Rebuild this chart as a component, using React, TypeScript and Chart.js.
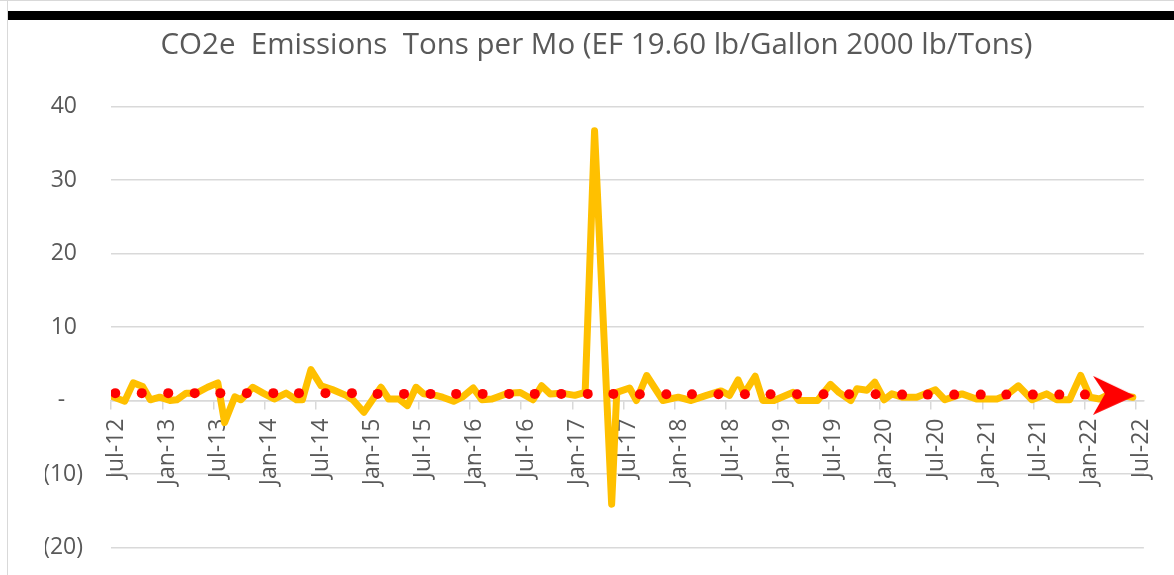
import React, { useEffect, useRef } from 'react';
import { Chart, registerables } from 'chart.js';

Chart.register(...registerables);

const TITLE = 'CO2e  Emissions  Tons per Mo (EF 19.60 lb/Gallon 2000 lb/Tons)';

const xTickLabels = [
  'Jul-12', 'Jan-13', 'Jul-13', 'Jan-14', 'Jul-14', 'Jan-15', 'Jul-15', 'Jan-16', 'Jul-16', 'Jan-17', 'Jul-17',
  'Jan-18', 'Jul-18', 'Jan-19', 'Jul-19', 'Jan-20', 'Jul-20', 'Jan-21', 'Jul-21', 'Jan-22', 'Jul-22',
];
const xTickMonths = [0, 6, 12, 18, 24, 30, 36, 42, 48, 54, 60, 66, 72, 78, 84, 90, 96, 102, 108, 114, 120];
const yTickValues = [-20, -10, 0, 10, 20, 30, 40];

// Monthly-ish CO2e tons (x = months since Jul-12)
const emissionMonths = [
  0.1, 1.6, 2.6, 3.7, 4.6, 5.7, 6.9, 7.7, 8.8, 10.0, 11.3, 12.5, 13.3, 14.5, 15.2, 16.6, 17.8, 19.1, 20.5, 21.7,
  22.4, 23.4, 24.6, 25.9, 27.5, 28.3, 29.6, 31.6, 32.5, 33.7, 34.7, 35.7, 36.6, 38.0, 38.8, 40.1, 41.1, 42.4, 43.4,
  44.6, 46.5, 47.9, 49.4, 50.4, 51.4, 52.7, 54.3, 55.5, 56.6, 58.6, 59.2, 60.7, 61.5, 62.7, 64.6, 66.4, 67.9, 69.7,
  71.4, 72.4, 73.4, 74.1, 75.4, 76.3, 77.6, 79.8, 80.5, 82.7, 84.2, 85.2, 86.6, 87.3, 88.5, 89.4, 90.5, 91.4, 92.6,
  94.3, 96.5, 97.6, 99.6, 101.3, 103.7, 104.8, 106.2, 107.8, 109.5, 110.7, 112.2, 113.5, 114.6, 115.7, 116.9, 119.6,
];
const emissionTons = [
  0.55, -0.1, 2.4, 1.9, 0.1, 0.45, 0.0, 0.1, 1.0, 1.0, 1.8, 2.4, -3.0, 0.5, 0.1, 1.8, 1.0, 0.2, 1.0, 0.1,
  0.1, 4.2, 2.0, 1.5, 0.7, 0.1, -1.6, 1.8, 0.2, 0.2, -0.7, 1.8, 0.9, 0.7, 0.45, -0.1, 0.45, 1.7, 0.1,
  0.2, 1.0, 1.1, 0.1, 2.0, 0.9, 1.0, 0.7, 1.1, 36.7, -14.1, 1.1, 1.7, 0.0, 3.4, 0.0, 0.45, 0.0, 0.7,
  1.3, 0.7, 2.8, 0.9, 3.3, 0.0, 0.0, 1.1, 0.0, 0.0, 2.2, 1.1, 0.0, 1.6, 1.4, 2.5, 0.1, 0.9, 0.45,
  0.45, 1.45, 0.1, 0.9, 0.2, 0.2, 0.7, 2.0, 0.1, 0.9, 0.1, 0.1, 3.4, 0.45, 0.2, 0.9, 0.45,
];

// Red marker series
const markerMonths = [
  0.5, 3.6, 6.7, 9.8, 12.8, 15.9, 19.0, 22.0, 25.1, 28.2, 31.2, 34.3, 37.4, 40.4, 43.5, 46.6, 49.6, 52.7, 55.8,
  58.8, 61.9, 65.0, 68.0, 71.1, 74.2, 77.2, 80.3, 83.4, 86.4, 89.5, 92.6, 95.6, 98.7, 101.8, 104.8, 107.9, 111.0, 114.0,
];
const markerTons = [
  1.0, 1.0, 1.0, 1.0, 1.0, 1.0, 1.0, 1.0, 1.0, 1.0, 0.9, 0.9, 0.9, 0.9, 0.9, 0.9, 0.9, 0.9, 0.9,
  0.9, 0.85, 0.85, 0.85, 0.85, 0.85, 0.85, 0.85, 0.85, 0.85, 0.85, 0.8, 0.8, 0.8, 0.8, 0.8, 0.8, 0.8, 0.8,
];

// Red arrow head at the end of the series
const arrowMonths = [117.4];
const arrowTons = [0.7];

const FONT = "'Open Sans', sans-serif";
const TEXT = '#595959';
const GRID = '#d9d9d9';

function fmtY(v: number): string {
  if (v === 0) return '-   ';
  if (v < 0) return `(${Math.abs(v)})`;
  return `${v} `;
}

function makeArrow(): HTMLCanvasElement {
  const c = document.createElement('canvas');
  c.width = 42;
  c.height = 39;
  const g = c.getContext('2d')!;
  g.fillStyle = '#ff0000';
  g.beginPath();
  g.moveTo(0, 0);
  g.lineTo(42, 20);
  g.lineTo(0, 39);
  g.lineTo(12, 18);
  g.closePath();
  g.fill();
  return c;
}

export default function App() {
  const ref = useRef<HTMLCanvasElement>(null);

  useEffect(() => {
    if (!ref.current) return;
    const arrow = makeArrow();
    const chart = new Chart(ref.current, {
      type: 'line',
      data: {
        datasets: [
          {
            label: 'Arrow',
            data: arrowMonths.map((m, i) => ({ x: m, y: arrowTons[i] })),
            showLine: false,
            pointStyle: arrow as any,
            pointRadius: 20,
            order: 0,
          },
          {
            label: 'Markers',
            data: markerMonths.map((m, i) => ({ x: m, y: markerTons[i] })),
            showLine: false,
            pointRadius: 5,
            pointBackgroundColor: '#ff0000',
            pointBorderWidth: 0,
            order: 1,
          },
          {
            label: 'CO2e Tons',
            data: emissionMonths.map((m, i) => ({ x: m, y: emissionTons[i] })),
            borderColor: '#ffc000',
            borderWidth: 7,
            borderJoinStyle: 'round',
            borderCapStyle: 'round',
            tension: 0,
            pointRadius: 0,
            order: 2,
          },
        ],
      },
      options: {
        animation: false,
        responsive: false,
        events: [],
        layout: { padding: { left: 45, right: 26, top: 0, bottom: 27.5 } },
        plugins: {
          legend: { display: false },
          tooltip: { enabled: false },
          title: {
            display: true,
            text: TITLE,
            color: TEXT,
            font: { family: FONT, size: 29.5, weight: 'normal', lineHeight: 1.2 },
            padding: { top: 27.5, bottom: 43.6 },
          },
        },
        scales: {
          x: {
            type: 'linear',
            position: { y: 0 } as any,
            min: 0,
            max: 120.9,
            afterBuildTicks: (s: any) => {
              s.ticks = xTickMonths.map((v) => ({ value: v }));
            },
            ticks: {
              autoSkip: false,
              minRotation: 90,
              maxRotation: 90,
              padding: 10,
              labelOffset: 5,
              color: TEXT,
              font: { family: FONT, size: 23 },
              callback: (v: any) => {
                const idx = xTickMonths.indexOf(Number(v));
                return idx >= 0 ? xTickLabels[idx] : '';
              },
            },
            grid: {
              display: true,
              drawOnChartArea: false,
              drawTicks: true,
              tickLength: 8,
              color: GRID,
              lineWidth: 1.5,
            },
            border: { display: true, color: GRID, width: 1.5 },
          },
          y: {
            type: 'linear',
            min: -20,
            max: 40,
            afterBuildTicks: (s: any) => {
              s.ticks = yTickValues.map((v) => ({ value: v }));
            },
            afterFit: (s: any) => {
              s.width = 66;
              s.paddingTop = 0;
              s.paddingBottom = 0;
            },
            ticks: {
              padding: 28,
              color: TEXT,
              font: { family: FONT, size: 23 },
              callback: (v: any) => fmtY(Number(v)),
            },
            grid: { color: GRID, lineWidth: 1.5, drawTicks: false },
            border: { display: false },
          },
        },
      },
    });
    return () => chart.destroy();
  }, []);

  return (
    <div style={{ position: 'absolute', left: 0, top: 0, width: 1174, height: 575, background: '#fff', overflow: 'hidden' }}>
      <canvas ref={ref} width={1174} height={575} style={{ position: 'absolute', left: 0, top: 0 }} />
      <div style={{ position: 'absolute', left: 0, top: 0, width: 1174, height: 1, background: GRID }} />
      <div style={{ position: 'absolute', left: 7, top: 0, width: 1, height: 575, background: GRID }} />
      <div style={{ position: 'absolute', left: 8, top: 11, width: 1166, height: 9, background: '#000' }} />
    </div>
  );
}
